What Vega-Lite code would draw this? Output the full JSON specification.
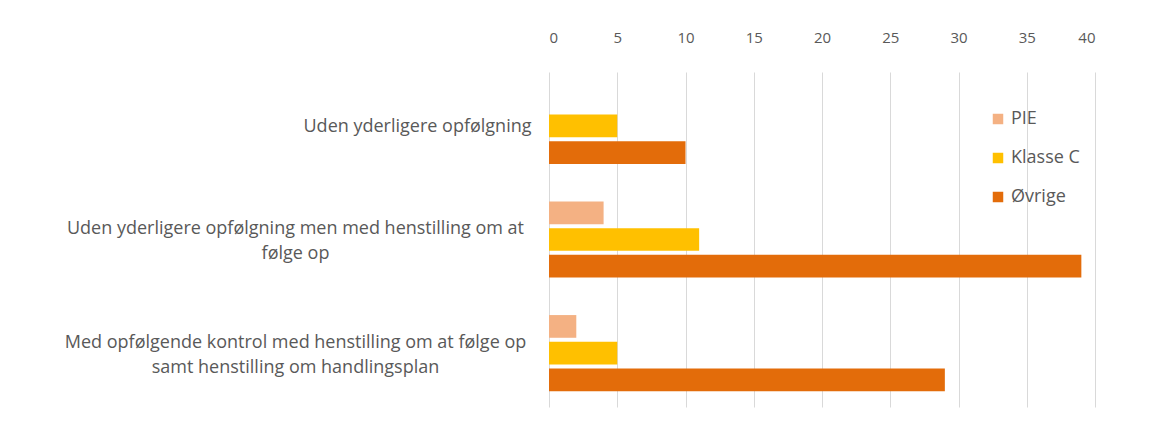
{
  "$schema": "https://vega.github.io/schema/vega-lite/v6.json",
  "width": 546,
  "height": 335,
  "autosize": "none",
  "padding": {"left": 549, "top": 72, "right": 76, "bottom": 34},
  "background": "white",
  "data": {
    "values": [
      {"kategori": "Uden yderligere opfølgning", "gruppe": "PIE", "antal": 0},
      {"kategori": "Uden yderligere opfølgning", "gruppe": "Klasse C", "antal": 5},
      {"kategori": "Uden yderligere opfølgning", "gruppe": "Øvrige", "antal": 10},
      {"kategori": "Uden yderligere opfølgning men med henstilling om at følge op", "gruppe": "PIE", "antal": 4},
      {"kategori": "Uden yderligere opfølgning men med henstilling om at følge op", "gruppe": "Klasse C", "antal": 11},
      {"kategori": "Uden yderligere opfølgning men med henstilling om at følge op", "gruppe": "Øvrige", "antal": 39},
      {"kategori": "Med opfølgende kontrol med henstilling om at følge op samt henstilling om handlingsplan", "gruppe": "PIE", "antal": 2},
      {"kategori": "Med opfølgende kontrol med henstilling om at følge op samt henstilling om handlingsplan", "gruppe": "Klasse C", "antal": 5},
      {"kategori": "Med opfølgende kontrol med henstilling om at følge op samt henstilling om handlingsplan", "gruppe": "Øvrige", "antal": 29}
    ]
  },
  "mark": {"type": "bar"},
  "encoding": {
    "y": {
      "field": "kategori",
      "type": "nominal",
      "sort": [
        "Uden yderligere opfølgning",
        "Uden yderligere opfølgning men med henstilling om at følge op",
        "Med opfølgende kontrol med henstilling om at følge op samt henstilling om handlingsplan"
      ],
      "scale": {"paddingInner": 0.33, "paddingOuter": 0.139},
      "axis": {
        "title": null,
        "domain": false,
        "ticks": false,
        "grid": false,
        "labelPadding": 18,
        "labelLimit": 700,
        "labelFont": "Open Sans",
        "labelFontSize": 18,
        "labelColor": "#595959",
        "labelLineHeight": 25,
        "encoding": {
          "labels": {
            "text": {"value": {"expr": "datum.value == 'Uden yderligere opfølgning men med henstilling om at følge op' ? ['Uden yderligere opfølgning men med henstilling om at', 'følge op'] : datum.value == 'Med opfølgende kontrol med henstilling om at følge op samt henstilling om handlingsplan' ? ['Med opfølgende kontrol med henstilling om at følge op', 'samt henstilling om handlingsplan'] : datum.value"}},
            "align": {"value": {"expr": "datum.value == 'Uden yderligere opfølgning' ? 'right' : 'center'"}},
            "dx": {"value": {"expr": "datum.value == 'Uden yderligere opfølgning' ? 0 : -236"}},
            "dy": {"value": {"expr": "datum.value == 'Uden yderligere opfølgning' ? 1 : -10.5"}}
          }
        }
      }
    },
    "yOffset": {
      "field": "gruppe",
      "type": "nominal",
      "sort": ["PIE", "Klasse C", "Øvrige"],
      "scale": {"paddingInner": 0.15}
    },
    "x": {
      "field": "antal",
      "type": "quantitative",
      "scale": {"domain": [0, 40], "nice": false},
      "axis": {
        "orient": "top",
        "title": null,
        "values": [0, 5, 10, 15, 20, 25, 30, 35, 40],
        "grid": true,
        "gridColor": "#D9D9D9",
        "gridWidth": 1,
        "domain": false,
        "ticks": false,
        "labelPadding": 27,
        "labelFont": "Open Sans",
        "labelFontSize": 15,
        "labelColor": "#595959"
      }
    },
    "color": {
      "field": "gruppe",
      "type": "nominal",
      "scale": {
        "domain": ["PIE", "Klasse C", "Øvrige"],
        "range": ["#F4B183", "#FFC000", "#E36C0A"]
      },
      "legend": {
        "title": null,
        "orient": "none",
        "legendX": 440,
        "legendY": 38,
        "symbolType": "square",
        "symbolSize": 110,
        "symbolStrokeWidth": 0,
        "labelFont": "Open Sans",
        "labelFontSize": 18,
        "labelColor": "#595959",
        "labelOffset": 4,
        "rowPadding": 21
      }
    }
  },
  "config": {"view": {"stroke": null}}
}
